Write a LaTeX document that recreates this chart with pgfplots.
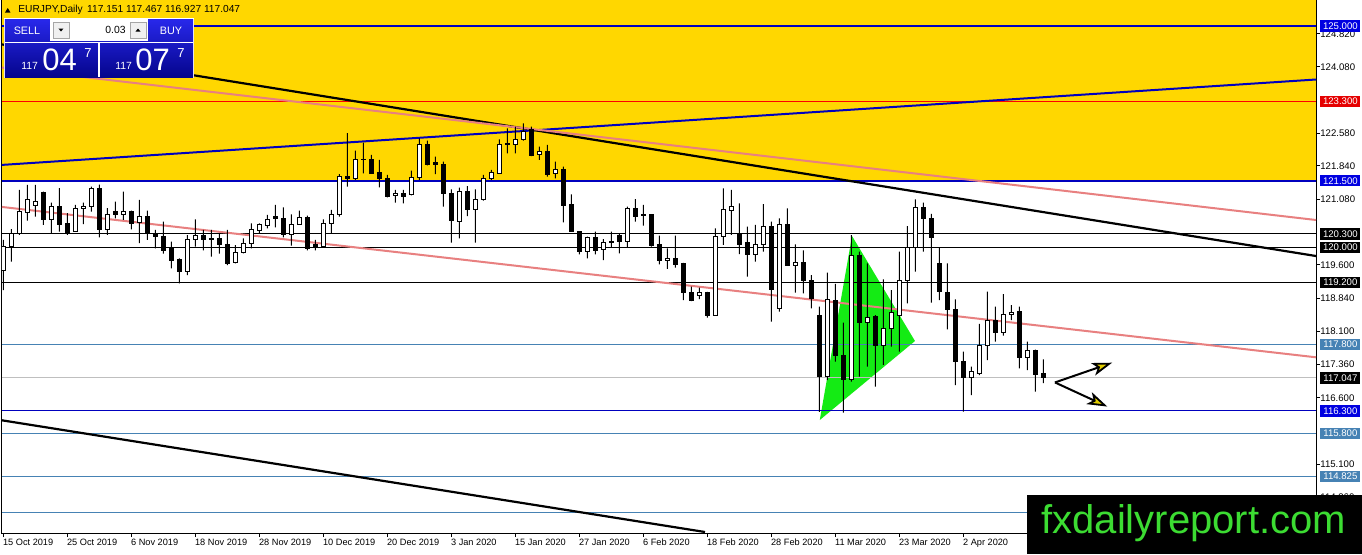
\documentclass[border=0pt]{standalone}
\usepackage{fontspec}
\setmainfont{Liberation Sans}
\usepackage{pgfplots}
\usepackage{pgfplotstable}
\pgfplotsset{compat=1.18}
\usetikzlibrary{arrows.meta}
\definecolor{gold}{RGB}{255,215,0}
\definecolor{hblue}{RGB}{0,0,190}
\definecolor{lblue}{RGB}{0,0,225}
\definecolor{steel}{RGB}{70,130,180}
\definecolor{pinkl}{RGB}{232,128,128}
\definecolor{tri}{RGB}{20,235,20}
\definecolor{arrowy}{RGB}{225,205,0}
\definecolor{wtop}{RGB}{40,40,235}
\definecolor{wbot}{RGB}{5,5,140}
\definecolor{logog}{RGB}{60,220,50}
\newcommand{\fs}[1]{\fontsize{#1}{#1}\selectfont}

\pgfplotstableread{
i o h l c
0 119.486 120.164 119.034 120.012
1 120.012 120.412 119.673 120.322
2 120.322 121.294 120.277 120.797
3 120.790 121.407 120.600 121.068
4 120.939 121.407 120.690 121.045
5 121.248 121.260 120.503 120.632
6 120.632 121.007 120.322 120.916
7 120.932 121.339 120.351 120.525
8 120.548 120.774 120.277 120.322
9 120.351 120.955 120.345 120.887
10 120.871 121.007 120.525 120.932
11 120.932 121.368 120.803 121.339
12 121.332 121.413 120.225 120.390
13 120.390 120.887 120.277 120.729
14 120.803 121.029 120.654 120.749
15 120.749 121.255 120.616 120.819
16 120.819 120.830 120.405 120.541
17 120.555 121.068 120.094 120.706
18 120.706 120.826 120.164 120.322
19 120.322 120.390 119.976 120.232
20 120.248 120.577 119.857 119.932
21 119.976 120.125 119.525 119.696
22 119.727 119.750 119.185 119.447
23 119.447 120.277 119.373 120.164
24 120.164 120.632 120.012 120.261
25 120.261 120.390 119.932 120.180
26 120.209 120.390 119.786 120.171
27 120.202 120.315 119.857 120.067
28 120.067 120.390 119.599 119.638
29 119.651 120.051 119.638 119.886
30 119.886 120.202 119.863 120.089
31 120.089 120.541 119.976 120.390
32 120.374 120.541 120.315 120.503
33 120.487 120.729 120.428 120.616
34 120.699 120.955 120.451 120.654
35 120.654 120.903 120.225 120.277
36 120.277 120.745 120.035 120.519
37 120.519 120.826 120.503 120.677
38 120.677 120.713 119.932 119.976
39 120.067 120.164 119.932 120.012
40 120.012 120.632 119.998 120.541
41 120.541 120.842 120.315 120.745
42 120.745 121.655 120.690 121.594
43 121.610 122.582 121.368 121.549
44 121.558 122.182 121.520 121.988
45 121.994 122.363 121.671 121.972
46 121.988 122.085 121.665 121.671
47 121.685 121.972 121.355 121.558
48 121.558 121.633 121.129 121.158
49 121.174 121.294 121.007 121.219
50 121.219 121.294 120.993 121.158
51 121.181 121.730 121.174 121.572
52 121.572 122.463 121.520 122.311
53 122.311 122.408 121.850 121.859
54 121.911 122.046 121.655 121.881
55 121.881 121.933 120.916 121.219
56 121.219 121.310 120.103 120.600
57 120.577 121.346 120.202 121.271
58 121.271 121.384 120.706 120.858
59 120.858 121.310 120.103 121.084
60 121.084 121.633 121.052 121.558
61 121.558 121.746 121.520 121.685
62 121.671 122.440 121.665 122.327
63 122.349 122.688 122.123 122.311
64 122.311 122.724 122.123 122.440
65 122.440 122.801 122.408 122.611
66 122.650 122.724 122.060 122.069
67 122.085 122.272 121.972 122.175
68 122.175 122.311 121.594 121.649
69 121.671 121.933 121.558 121.768
70 121.768 121.820 120.564 120.939
71 120.955 121.197 120.351 120.367
72 120.351 120.360 119.841 119.899
73 119.899 120.238 119.750 120.216
74 120.225 120.351 119.841 119.932
75 119.948 120.186 119.712 120.112
76 120.141 120.351 119.990 120.112
77 120.261 120.315 119.863 120.141
78 120.141 120.916 119.990 120.880
79 120.880 121.090 120.577 120.690
80 120.735 120.955 120.487 120.713
81 120.729 120.735 120.012 120.035
82 120.051 120.261 119.615 119.696
83 119.696 119.976 119.509 119.750
84 119.750 120.261 119.538 119.621
85 119.638 119.645 118.808 118.982
86 118.982 119.109 118.785 118.792
87 118.921 119.086 118.830 118.982
88 118.982 118.990 118.408 118.469
89 118.469 120.428 118.460 120.238
90 120.238 121.332 120.051 120.842
91 120.826 121.294 120.277 120.916
92 120.277 120.993 119.847 120.073
93 120.103 120.464 119.334 119.847
94 119.847 120.503 119.673 120.073
95 120.073 120.977 119.899 120.464
96 120.464 120.577 118.318 119.050
97 118.620 120.654 118.544 120.525
98 120.525 120.880 119.590 119.599
99 119.599 120.067 118.973 119.660
100 119.660 119.932 118.959 119.244
101 119.260 119.373 118.620 118.846
102 118.469 118.657 116.277 117.075
103 117.075 119.425 117.000 118.824
104 118.792 119.170 117.414 117.549
105 117.565 118.295 116.261 117.016
106 117.016 120.277 116.962 119.825
107 119.825 119.899 117.075 118.295
108 118.295 119.638 117.301 118.417
109 118.431 118.469 116.849 117.791
110 117.791 119.276 117.340 118.169
111 118.169 119.034 117.753 118.521
112 118.453 119.899 117.640 119.260
113 119.244 120.480 118.733 119.999
114 119.999 121.084 119.447 120.903
115 120.903 121.007 119.899 120.654
116 120.654 120.752 118.747 120.225
117 119.638 119.999 118.808 118.996
118 118.982 119.638 118.146 118.598
119 118.604 118.824 116.887 117.414
120 117.414 117.640 116.284 117.061
121 117.061 117.301 116.661 117.188
122 117.151 118.266 117.113 117.791
123 117.791 118.996 117.452 118.356
124 118.356 118.657 117.866 118.069
125 118.069 118.943 118.001 118.491
126 118.476 118.695 118.356 118.530
127 118.559 118.657 117.265 117.513
128 117.513 117.866 117.226 117.662
129 117.678 117.685 116.735 117.129
130 117.151 117.467 116.927 117.047
}\candles

\begin{document}
\begin{tikzpicture}
\path[use as bounding box, fill=white] (-1pt,-10.5pt) rectangle (680pt,266.5pt);
\begin{axis}[
  at={(0,0)}, anchor=south west, scale only axis,
  width=657pt, height=266.5pt,
  xmin=-0.1625, xmax=164.0875, ymin=113.5424, ymax=125.5876,
  clip=false,
  axis line style={black, line width=0.5pt},
  tick style={black, line width=0.5pt},
  tick align=outside, major tick length=2pt,
  xtick pos=left, ytick pos=right, yticklabel pos=right,
  xtick={0,8,...,120},
  xticklabels={15 Oct 2019,25 Oct 2019,6 Nov 2019,18 Nov 2019,28 Nov 2019,10 Dec 2019,20 Dec 2019,3 Jan 2020,15 Jan 2020,27 Jan 2020,6 Feb 2020,18 Feb 2020,28 Feb 2020,11 Mar 2020,23 Mar 2020,2 Apr 2020},
  ytick={124.82,124.08,122.58,121.84,121.08,119.6,118.84,118.1,117.36,116.6,115.1,114.36},
  yticklabels={124.820,124.080,122.580,121.840,121.080,119.600,118.840,118.100,117.360,116.600,115.100,114.360},
  xticklabel style={font=\fs{4.6}, anchor=north west, inner sep=0pt, text height=3.4pt, text depth=0.9pt, xshift=-0.3pt, yshift=-0.6pt},
  yticklabel style={font=\fs{4.8}, anchor=west, inner sep=0pt},
]
% gold zone
\addplot[fill=gold, draw=none] coordinates {(-0.1625,121.5) (164.0875,121.5) (164.0875,125.5876) (-0.1625,125.5876)};
% triangle
\addplot[fill=tri, draw=none] coordinates {(102.06,116.096) (106.09,120.254) (113.96,117.881)};
% horizontal levels
\addplot[hblue, line width=1.1pt] coordinates {(-0.1625,125) (164.0875,125)};
\addplot[red, line width=0.5pt] coordinates {(-0.1625,123.3) (164.0875,123.3)};
\addplot[hblue, line width=1.1pt] coordinates {(-0.1625,121.5) (164.0875,121.5)};
\addplot[black, line width=0.5pt] coordinates {(-0.1625,120.3) (164.0875,120.3)};
\addplot[black, line width=0.5pt] coordinates {(-0.1625,120.0) (164.0875,120.0)};
\addplot[black, line width=0.5pt] coordinates {(-0.1625,119.2) (164.0875,119.2)};
\addplot[steel, line width=0.5pt] coordinates {(-0.1625,117.8) (164.0875,117.8)};
\addplot[black!25, line width=0.5pt] coordinates {(-0.1625,117.047) (164.0875,117.047)};
\addplot[hblue, line width=0.5pt] coordinates {(-0.1625,116.3) (164.0875,116.3)};
\addplot[steel, line width=0.5pt] coordinates {(-0.1625,115.8) (164.0875,115.8)};
\addplot[steel, line width=0.5pt] coordinates {(-0.1625,114.825) (164.0875,114.825)};
\addplot[steel, line width=0.5pt] coordinates {(-0.1625,114.0) (164.0875,114.0)};
% trend lines
\addplot[hblue, line width=1pt] coordinates {(-0.1625,121.861) (164.0875,123.791)};
\addplot[black, line width=1.1pt] coordinates {(-0.1625,124.584) (164.0875,119.802)};
\addplot[pinkl, line width=1pt] coordinates {(-0.1625,124.060) (164.0875,120.616)};
\addplot[pinkl, line width=1pt] coordinates {(-0.1625,120.911) (164.0875,117.513)};
\addplot[black, line width=1.1pt] coordinates {(-0.1625,116.089) (87.71,113.565)};
% arrows
\addplot[black, line width=1pt, -{Stealth[length=10pt,width=6.5pt,inset=2.5pt,line width=0.9pt,fill=arrowy]}] coordinates {(131.46,116.945) (138.6,117.391)};
\addplot[black, line width=1pt, -{Stealth[length=10pt,width=6.5pt,inset=2.5pt,line width=0.9pt,fill=arrowy]}] coordinates {(131.46,116.945) (138.0,116.40)};
% label anchors
\coordinate (L1) at (axis cs:164.0875,125);
\coordinate (L2) at (axis cs:164.0875,123.3);
\coordinate (L3) at (axis cs:164.0875,121.5);
\coordinate (L4) at (axis cs:164.0875,120.3);
\coordinate (L5) at (axis cs:164.0875,120.0);
\coordinate (L6) at (axis cs:164.0875,119.2);
\coordinate (L7) at (axis cs:164.0875,117.8);
\coordinate (L8) at (axis cs:164.0875,117.047);
\coordinate (L9) at (axis cs:164.0875,116.3);
\coordinate (L10) at (axis cs:164.0875,115.8);
\coordinate (L11) at (axis cs:164.0875,114.825);
\end{axis}

% candles
\begin{axis}[
  at={(0,0)}, anchor=south west, scale only axis,
  width=657pt, height=266.5pt,
  xmin=-0.1625, xmax=164.0875, ymin=113.5424, ymax=125.5876,
  hide axis, ybar stacked, clip=true,
]
\addplot[draw=none, fill=none, bar width=2pt] table[x=i, y=l] {\candles};
\addplot[fill=black, draw=none, bar width=0.5pt] table[x=i, y expr={min(\thisrow{o},\thisrow{c})-\thisrow{l}}] {\candles};
\addplot[fill=white, draw=black, line width=0.5pt, bar width=2pt] table[x=i, y expr={max(\thisrow{c}-\thisrow{o},0)}] {\candles};
\addplot[fill=black, draw=black, line width=0.5pt, bar width=2pt] table[x=i, y expr={max(\thisrow{o}-\thisrow{c},0)}] {\candles};
\addplot[fill=black, draw=none, bar width=0.5pt] table[x=i, y expr={\thisrow{h}-max(\thisrow{o},\thisrow{c})}] {\candles};
\end{axis}

% price labels on the right
\tikzset{plab/.style={anchor=west, xshift=2pt, inner xsep=1pt, inner ysep=0pt, minimum height=5.6pt, minimum width=20pt, text=white, font=\fs{4.8}}}
\node[plab, fill=lblue] at (L1) {125.000};
\node[plab, fill=red!90!black] at (L2) {123.300};
\node[plab, fill=lblue] at (L3) {121.500};
\node[plab, fill=black] at (L4) {120.300};
\node[plab, fill=black] at (L5) {120.000};
\node[plab, fill=black] at (L6) {119.200};
\node[plab, fill=steel] at (L7) {117.800};
\node[plab, fill=black] at (L8) {117.047};
\node[plab, fill=lblue] at (L9) {116.300};
\node[plab, fill=steel] at (L10) {115.800};
\node[plab, fill=steel] at (L11) {114.825};

% overlay items in pixel coordinates
\begin{scope}[x=0.5pt, y=-0.5pt, shift={(-1pt,266.5pt)}]
  % title
  \fill[black] (5,12.5) -- (10.5,12.5) -- (7.75,8) -- cycle;
  \node[anchor=west, inner sep=0pt, font=\fs{5.1}] at (18,10) {EURJPY,Daily\hspace{2.2pt}117.151 117.467 116.927 117.047};
  % trade panel
  \fill[white] (4,18) rectangle (194,78);
  \shade[top color=wtop, bottom color=wbot] (5,19) rectangle (193,77);
  \fill[white] (50,19) rectangle (148,41);
  \draw[black!35, fill=black!6, line width=0.3pt] (53,22) rectangle (69,38);
  \draw[black!35, fill=black!6, line width=0.3pt] (130,22) rectangle (146,38);
  \fill[black] (58.5,28.5) -- (63.5,28.5) -- (61,31.5) -- cycle;
  \fill[black] (135.5,31.5) -- (140.5,31.5) -- (138,28.5) -- cycle;
  \node[anchor=east, inner sep=0pt, font=\fs{5.2}] at (126,30) {0.03};
  \draw[white, line width=0.5pt] (5,42.5) -- (193,42.5);
  \draw[white, line width=0.6pt] (99,42.5) -- (99,77);
  \node[white, inner sep=0pt, font=\fs{5.4}] at (27,30.5) {SELL};
  \node[white, inner sep=0pt, font=\fs{5.4}] at (171,30.5) {BUY};
  \node[anchor=base west, white, inner sep=0pt, font=\fs{5.2}] at (21,69) {117};
  \node[anchor=base west, white, inner sep=0pt, font=\fs{15.5}] at (42,70) {04};
  \node[anchor=base west, white, inner sep=0pt, font=\fs{6.5}] at (84,57) {7};
  \node[anchor=base west, white, inner sep=0pt, font=\fs{5.2}] at (115,69) {117};
  \node[anchor=base west, white, inner sep=0pt, font=\fs{15.5}] at (135,70) {07};
  \node[anchor=base west, white, inner sep=0pt, font=\fs{6.5}] at (177,57) {7};
  % logo
  \fill[black] (1027,495) rectangle (1362,554);
  \node[anchor=base west, inner sep=0pt, text=logog, font=\fs{20}] at (1041,533) {fxdailyreport.com};
\end{scope}
\end{tikzpicture}
\end{document}
